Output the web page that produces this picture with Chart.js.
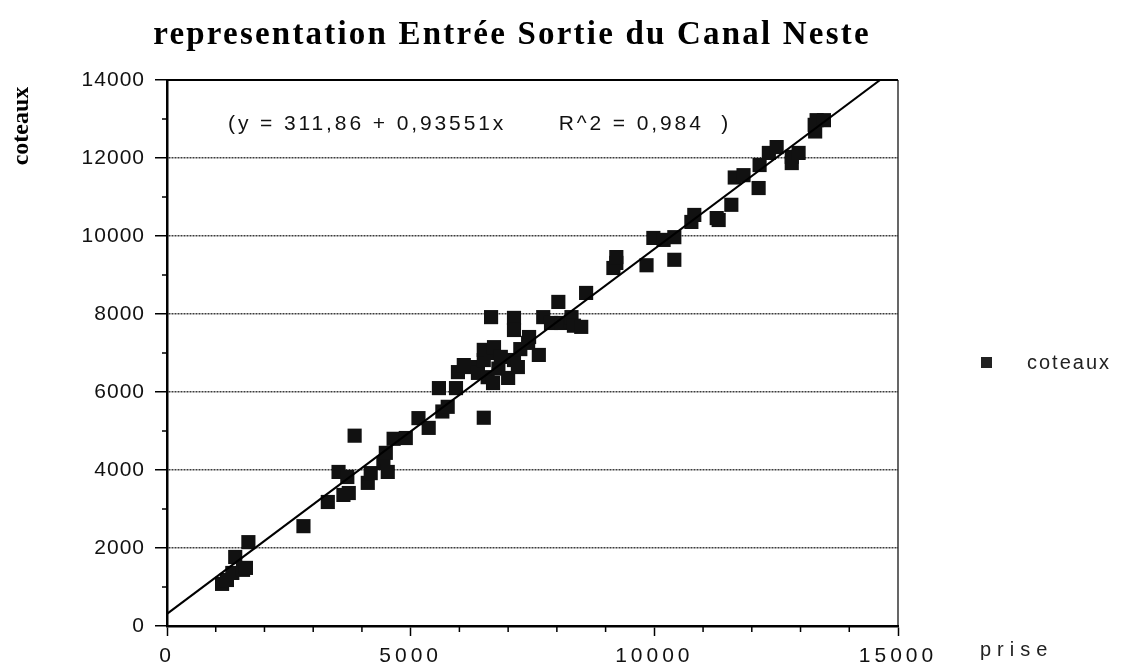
<!DOCTYPE html>
<html>
<head>
<meta charset="utf-8">
<title>representation Entrée Sortie du Canal Neste</title>
<script src="https://cdn.jsdelivr.net/npm/chart.js@4.4.1/dist/chart.umd.min.js"></script>
<style>
  html, body { margin: 0; padding: 0; background: #fff; }
  canvas { display: block; }
</style>
</head>
<body>
<canvas id="chart" width="1123" height="670"></canvas>
<script>
// débit à la prise (x) et débit arrivé aux coteaux (y)
var prise = [
  1130, 1230, 1340, 1400, 1560, 1620, 1670, 2800, 3300, 3520,
  3620, 3700, 3730, 3850, 4120, 4180, 4440, 4490, 4530, 4650,
  4900, 5160, 5370, 5650, 5760, 5580, 5930, 5970, 6090, 6240,
  6380, 6500, 6500, 6500, 6580, 6690, 6650, 6710, 6650, 6800,
  7000, 6850, 7120, 7200, 7120, 7120, 7250, 7410, 7430, 7630,
  7720, 7880, 8030, 8090, 8290, 8300, 8350, 8500, 8600, 9160,
  9220, 9220, 9840, 9980, 10190, 10410, 10410, 10760, 10820, 11280,
  11320, 11580, 11650, 11830, 12140, 12160, 12350, 12510, 12820, 12820,
  12960, 13290, 13330, 13480, 13300
];
var coteaux = [
  1080, 1180, 1360, 1770, 1440, 1490, 2150, 2560, 3180, 3950,
  3360, 3820, 3410, 4880, 3670, 3920, 4180, 4440, 3950, 4800,
  4820, 5330, 5080, 5500, 5620, 6100, 6100, 6510, 6690, 6640,
  6490, 5340, 6820, 7080, 6380, 6230, 7000, 7150, 7920, 6600,
  6360, 6900, 6820, 6640, 7900, 7590, 7100, 7260, 7410, 6950,
  7920, 7770, 8310, 7770, 7800, 7920, 7700, 7670, 8540, 9180,
  9310, 9460, 9250, 9950, 9900, 9390, 9970, 10360, 10540, 10460,
  10410, 10800, 11500, 11560, 11230, 11820, 12130, 12280, 12030, 11870,
  12130, 12850, 12970, 12970, 12680
];

// droite de régression
var intercept = 311.86;
var slope = 0.93551;
var r2 = 0.984;

var xTicks = [0, 5000, 10000, 15000];
var yTicks = [0, 2000, 4000, 6000, 8000, 10000, 12000, 14000];

function fr(v) {
  return String(v).replace('.', ',');
}

var points = prise.map(function(p, i) {
  return { x: p, y: coteaux[i] };
});

var fitLine = [
  { x: xTicks[0], y: intercept + slope * xTicks[0] },
  { x: xTicks[xTicks.length - 1], y: intercept + slope * xTicks[xTicks.length - 1] }
];

// espacement des caractères des graduations
function spaceLabels(scale, px) {
  if (scale._spaced) return;
  var draw = scale.drawLabels;
  scale.drawLabels = function(area) {
    this.ctx.save();
    this.ctx.letterSpacing = px + 'px';
    draw.call(this, area);
    this.ctx.restore();
  };
  scale._spaced = true;
}

// cadre, petites graduations et textes
var decor = {
  id: 'decor',
  afterDraw: function(chart) {
    var ctx = chart.ctx;
    var a = chart.chartArea;
    var xs = chart.scales.x;
    var ys = chart.scales.y;
    ctx.save();
    ctx.strokeStyle = '#000';

    ctx.lineWidth = 2;
    ctx.beginPath();
    ctx.moveTo(a.left, a.top);
    ctx.lineTo(a.right, a.top);
    ctx.stroke();
    ctx.lineWidth = 1.2;
    ctx.beginPath();
    ctx.moveTo(a.right, a.top);
    ctx.lineTo(a.right, a.bottom);
    ctx.stroke();

    ctx.lineWidth = 1.5;
    ctx.beginPath();
    for (var v = 1000; v < 14000; v += 2000) {
      var py = ys.getPixelForValue(v);
      ctx.moveTo(a.left - 5, py);
      ctx.lineTo(a.left, py);
    }
    for (var u = 1000; u < 15000; u += 1000) {
      if (u % 5000 === 0) continue;
      var px = xs.getPixelForValue(u);
      ctx.moveTo(px, a.bottom);
      ctx.lineTo(px, a.bottom + 6);
    }
    ctx.stroke();

    ctx.fillStyle = '#000';
    ctx.textBaseline = 'middle';
    ctx.textAlign = 'center';
    ctx.letterSpacing = '2.2px';
    ctx.font = 'bold 33px "Liberation Serif"';
    ctx.fillText('representation Entrée Sortie du Canal Neste', 512, 35);

    ctx.save();
    ctx.letterSpacing = '0px';
    ctx.translate(22, 126);
    ctx.rotate(-Math.PI / 2);
    ctx.font = 'bold 24px "Liberation Serif"';
    ctx.fillText('coteaux', 0, 0);
    ctx.restore();

    ctx.textAlign = 'left';
    ctx.letterSpacing = '2.9px';
    ctx.font = '21px "Liberation Sans"';
    ctx.fillStyle = '#111';
    ctx.fillText('(y = ' + fr(intercept) + ' + ' + fr(slope) + 'x      R^2 = ' + fr(r2) + '  )',
      a.left + 61, 124);

    ctx.fillStyle = '#222';
    ctx.fillRect(981, 357, 11, 11);
    ctx.letterSpacing = '2px';
    ctx.font = '20px "Liberation Sans"';
    ctx.fillText('coteaux', 1027, 363);
    ctx.letterSpacing = '6px';
    ctx.fillText('prise', 980, 650);
    ctx.restore();
  }
};

new Chart(document.getElementById('chart'), {
  type: 'scatter',
  data: {
    datasets: [{
      label: 'coteaux',
      data: points,
      pointStyle: 'rect',
      pointRadius: 10,
      pointHoverRadius: 10,
      backgroundColor: '#111',
      borderColor: '#111',
      borderWidth: 0,
      order: 1
    }, {
      type: 'line',
      label: 'régression',
      data: fitLine,
      borderColor: '#000',
      borderWidth: 2,
      pointRadius: 0,
      fill: false,
      order: 0
    }]
  },
  options: {
    responsive: false,
    animation: false,
    layout: { padding: { top: 80, right: 225, left: 0, bottom: 0 } },
    plugins: {
      legend: { display: false },
      title: { display: false },
      tooltip: { enabled: false }
    },
    scales: {
      x: {
        type: 'linear',
        min: 0,
        max: 15000,
        afterBuildTicks: function(s) {
          s.ticks = xTicks.map(function(v) { return { value: v }; });
        },
        afterFit: function(s) {
          s.height = 44;
          spaceLabels(s, 4);
        },
        ticks: {
          color: '#111',
          padding: 8,
          font: { family: 'Liberation Sans', size: 21 },
          maxRotation: 0,
          callback: function(v) { return String(v); }
        },
        grid: {
          drawOnChartArea: false,
          tickLength: 10,
          tickColor: '#000',
          tickWidth: 1.5
        },
        border: { color: '#000', width: 2.5 }
      },
      y: {
        type: 'linear',
        min: 0,
        max: 14000,
        afterBuildTicks: function(s) {
          s.ticks = yTicks.map(function(v) { return { value: v }; });
        },
        afterFit: function(s) {
          s.width = 167;
          spaceLabels(s, 1);
        },
        ticks: {
          color: '#111',
          padding: 10,
          font: { family: 'Liberation Sans', size: 21 },
          callback: function(v) { return String(v); }
        },
        grid: {
          color: function(c) {
            var v = c.tick && c.tick.value;
            return (v > 0 && v < 14000) ? '#3c3c3c' : 'rgba(0,0,0,0)';
          },
          lineWidth: 1.5,
          tickLength: 12,
          tickColor: '#000',
          tickWidth: 1.5
        },
        border: { color: '#000', width: 2.5, dash: [2, 1] }
      }
    }
  },
  plugins: [decor]
});
</script>
</body>
</html>
